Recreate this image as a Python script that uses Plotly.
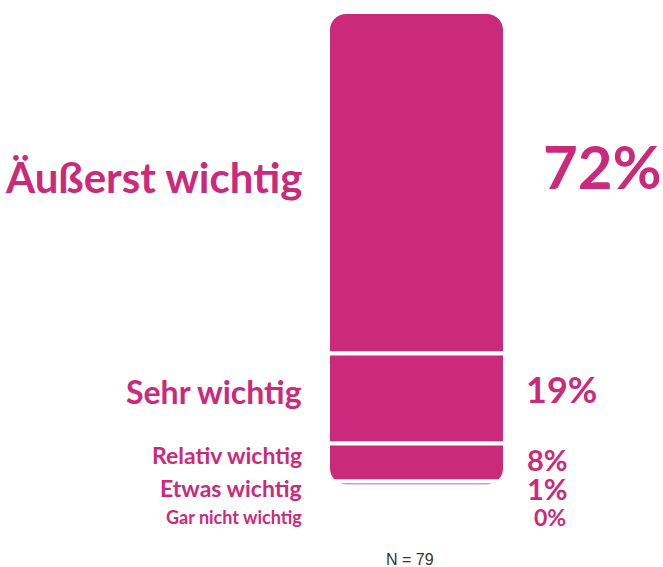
import plotly.graph_objects as go

categories = ["Äußerst wichtig", "Sehr wichtig", "Relativ wichtig", "Etwas wichtig", "Gar nicht wichtig"]
values = [72, 19, 8, 1, 0]
value_labels = ["72%", "19%", "8%", "1%", "0%"]
n_note = "N = 79"

COLOR = "#CB2A7B"

# style per row (sizes, pixel nudges)
label_sizes = [42, 32, 23, 23, 18]
pct_sizes = [60, 36, 29, 29, 23]
label_yshift = [6, 7, 7, -4, -31]
pct_yshift = [17, 9, 3, -5, -31]
pct_xpx = [541, 524, 525, 525, 532]

fig = go.Figure()
# first category stacks upward, the rest stack downward from the same base
signs = [1, -1, -1, -1, -1]
for cat, v, s in zip(categories, values, signs):
    fig.add_trace(go.Bar(
        x=[0], y=[s * v], name=cat, width=1,
        marker=dict(color=COLOR, line=dict(color="white", width=4)),
        hoverinfo="skip", showlegend=False,
    ))

# segment centers
centers = []
pos_acc, neg_acc = 0, 0
for v, s in zip(values, signs):
    if s > 0:
        centers.append(pos_acc + v / 2)
        pos_acc += v
    else:
        centers.append(-(neg_acc + v / 2))
        neg_acc += v

W, H = 663, 567
FONT = "Lato"
annotations = []
for i, cat in enumerate(categories):
    annotations.append(dict(
        x=304 / W, xref="paper", y=centers[i], yref="y",
        text=cat, showarrow=False, xanchor="right", yanchor="middle",
        yshift=label_yshift[i],
        font=dict(family=FONT, size=label_sizes[i], color=COLOR, weight=700),
    ))
    annotations.append(dict(
        x=pct_xpx[i] / W, xref="paper", y=centers[i], yref="y",
        text=value_labels[i], showarrow=False, xanchor="left", yanchor="middle",
        yshift=pct_yshift[i],
        font=dict(family=FONT, size=pct_sizes[i], color=COLOR, weight=700),
    ))
annotations.append(dict(
    x=410 / W, xref="paper", y=0, yref="paper", yanchor="middle",
    yshift=-(559 - 530), text=n_note, showarrow=False,
    font=dict(family="Liberation Sans", size=16, color="#333333"),
))

scale_x = 177
cx = 416.5
top_val = 72
px_per_unit = 4.76
plot_bottom_px = 530
bottom_val = top_val - (plot_bottom_px - 10) / px_per_unit

fig.update_layout(
    width=W, height=H,
    margin=dict(l=0, r=0, t=10, b=H - plot_bottom_px),
    barmode="relative",
    barcornerradius=18,
    plot_bgcolor="white", paper_bgcolor="white",
    xaxis=dict(range=[-cx / scale_x, (W - cx) / scale_x], visible=False, fixedrange=True),
    yaxis=dict(range=[bottom_val, top_val + 2 / px_per_unit], visible=False, fixedrange=True),
    annotations=annotations,
)

fig.write_html("out.html", config={"displayModeBar": False},
               post_script="document.body.style.margin='0';")
